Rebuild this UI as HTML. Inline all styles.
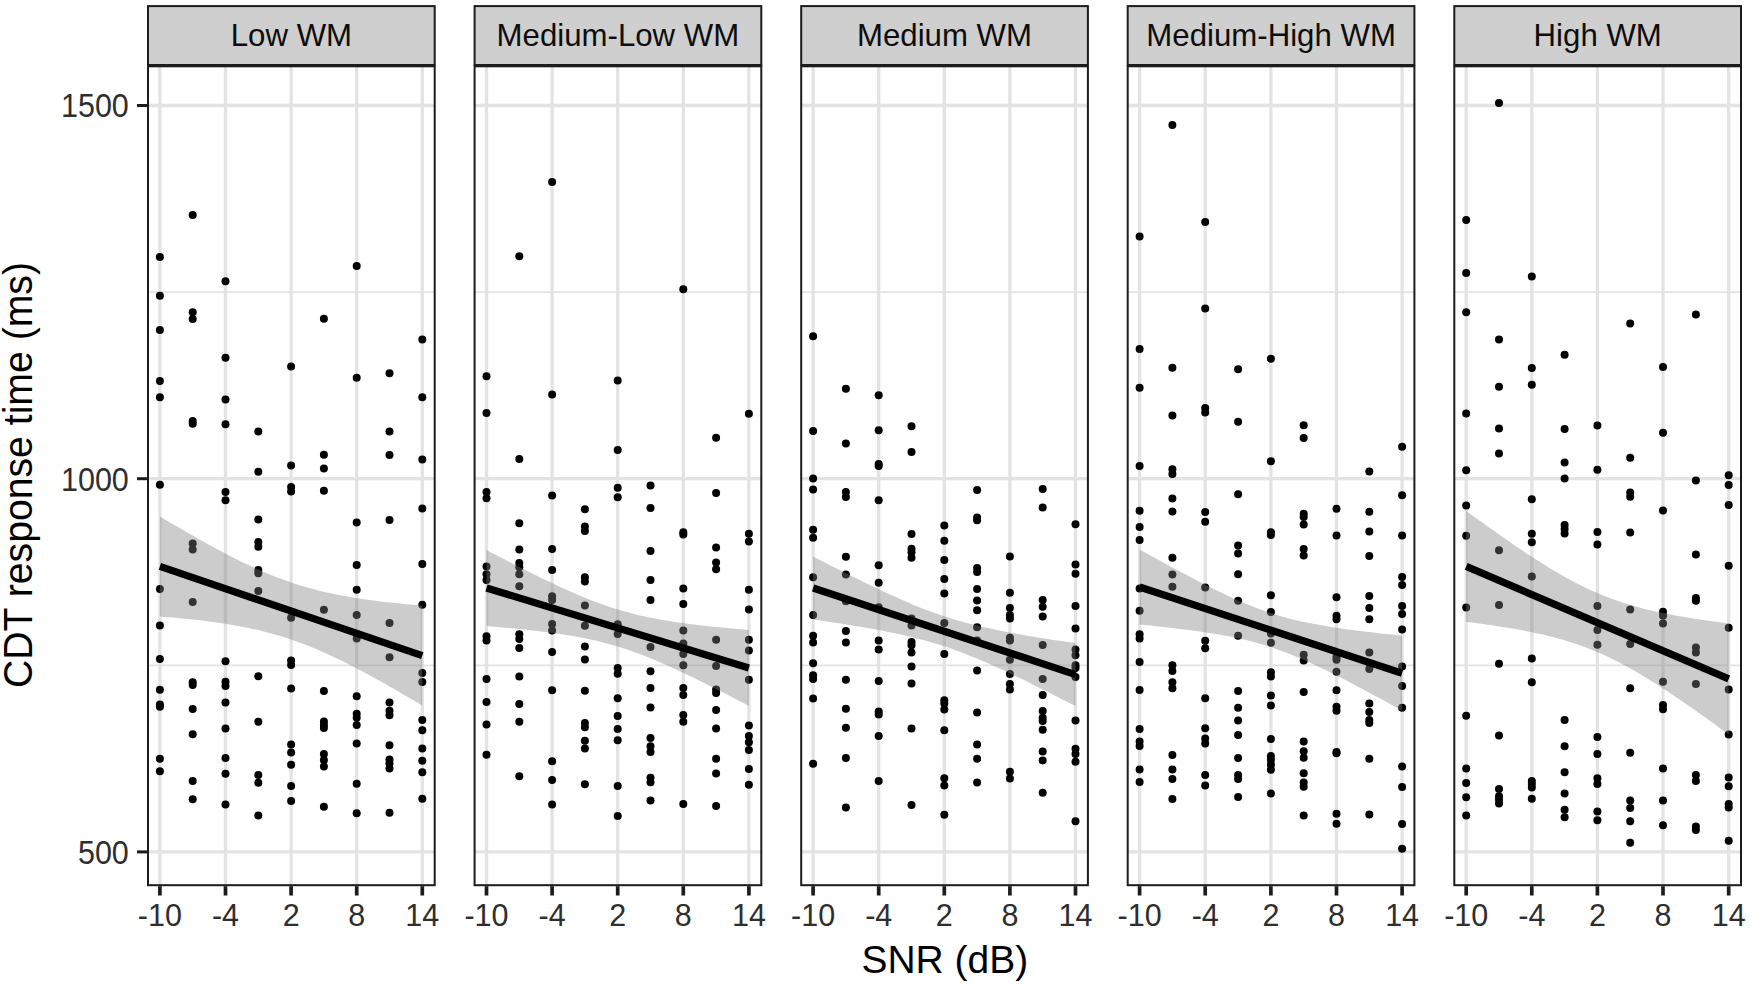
<!DOCTYPE html>
<html lang="en"><head><meta charset="utf-8"><title>CDT response time by SNR and WM group</title>
<style>html,body{margin:0;padding:0;background:#fff;}body{width:1750px;height:986px;overflow:hidden;}svg{display:block;}</style>
</head><body>
<svg width="1750" height="986" viewBox="0 0 1750 986" font-family="'Liberation Sans', Arial, sans-serif">
<rect width="1750" height="986" fill="#fff"/>
<g>
<rect x="148.0" y="66.3" width="286.7" height="818.9" fill="#fff"/>
<line x1="148.0" x2="434.7" y1="292.1" y2="292.1" stroke="#e3e3e3" stroke-width="1.7"/>
<line x1="148.0" x2="434.7" y1="665.3" y2="665.3" stroke="#e3e3e3" stroke-width="1.7"/>
<line x1="148.0" x2="434.7" y1="105.5" y2="105.5" stroke="#e3e3e3" stroke-width="3.3"/>
<line x1="148.0" x2="434.7" y1="478.7" y2="478.7" stroke="#e3e3e3" stroke-width="3.3"/>
<line x1="148.0" x2="434.7" y1="851.9" y2="851.9" stroke="#e3e3e3" stroke-width="3.3"/>
<line x1="159.9" x2="159.9" y1="66.3" y2="885.2" stroke="#e3e3e3" stroke-width="3.3"/>
<line x1="225.5" x2="225.5" y1="66.3" y2="885.2" stroke="#e3e3e3" stroke-width="3.3"/>
<line x1="291.1" x2="291.1" y1="66.3" y2="885.2" stroke="#e3e3e3" stroke-width="3.3"/>
<line x1="356.7" x2="356.7" y1="66.3" y2="885.2" stroke="#e3e3e3" stroke-width="3.3"/>
<line x1="422.3" x2="422.3" y1="66.3" y2="885.2" stroke="#e3e3e3" stroke-width="3.3"/>
<g fill="#000"><circle cx="159.9" cy="256.9" r="4"/><circle cx="159.9" cy="295.8" r="4"/><circle cx="159.9" cy="329.9" r="4"/><circle cx="159.9" cy="380.9" r="4"/><circle cx="159.9" cy="397.3" r="4"/><circle cx="159.9" cy="484.8" r="4"/><circle cx="159.9" cy="589.1" r="4"/><circle cx="159.9" cy="625.5" r="4"/><circle cx="159.9" cy="659" r="4"/><circle cx="159.9" cy="689.7" r="4"/><circle cx="159.9" cy="704.4" r="4"/><circle cx="159.9" cy="706.7" r="4"/><circle cx="159.9" cy="758.7" r="4"/><circle cx="159.9" cy="771.2" r="4"/><circle cx="192.7" cy="215.1" r="4"/><circle cx="192.7" cy="312.3" r="4"/><circle cx="192.7" cy="319.1" r="4"/><circle cx="192.7" cy="420.9" r="4"/><circle cx="192.7" cy="423.8" r="4"/><circle cx="192.7" cy="543.6" r="4"/><circle cx="192.7" cy="549.6" r="4"/><circle cx="192.7" cy="601.9" r="4"/><circle cx="192.7" cy="682.3" r="4"/><circle cx="192.7" cy="685.1" r="4"/><circle cx="192.7" cy="709" r="4"/><circle cx="192.7" cy="734.3" r="4"/><circle cx="192.7" cy="780.9" r="4"/><circle cx="192.7" cy="799.3" r="4"/><circle cx="225.5" cy="281.3" r="4"/><circle cx="225.5" cy="357.8" r="4"/><circle cx="225.5" cy="399.6" r="4"/><circle cx="225.5" cy="424.3" r="4"/><circle cx="225.5" cy="491.9" r="4"/><circle cx="225.5" cy="500.2" r="4"/><circle cx="225.5" cy="661.3" r="4"/><circle cx="225.5" cy="681.7" r="4"/><circle cx="225.5" cy="686" r="4"/><circle cx="225.5" cy="702.4" r="4"/><circle cx="225.5" cy="728.6" r="4"/><circle cx="225.5" cy="758.1" r="4"/><circle cx="225.5" cy="773.8" r="4"/><circle cx="225.5" cy="804.4" r="4"/><circle cx="258.3" cy="431.4" r="4"/><circle cx="258.3" cy="471.8" r="4"/><circle cx="258.3" cy="519.5" r="4"/><circle cx="258.3" cy="541.9" r="4"/><circle cx="258.3" cy="546.8" r="4"/><circle cx="258.3" cy="570.1" r="4"/><circle cx="258.3" cy="573.2" r="4"/><circle cx="258.3" cy="591.1" r="4"/><circle cx="258.3" cy="676.3" r="4"/><circle cx="258.3" cy="721.8" r="4"/><circle cx="258.3" cy="774.9" r="4"/><circle cx="258.3" cy="782.8" r="4"/><circle cx="258.3" cy="815.5" r="4"/><circle cx="291.1" cy="366.6" r="4"/><circle cx="291.1" cy="465.5" r="4"/><circle cx="291.1" cy="487.1" r="4"/><circle cx="291.1" cy="491.6" r="4"/><circle cx="291.1" cy="617.8" r="4"/><circle cx="291.1" cy="660.4" r="4"/><circle cx="291.1" cy="664.9" r="4"/><circle cx="291.1" cy="688.5" r="4"/><circle cx="291.1" cy="744.5" r="4"/><circle cx="291.1" cy="752.4" r="4"/><circle cx="291.1" cy="764.7" r="4"/><circle cx="291.1" cy="786" r="4"/><circle cx="291.1" cy="801" r="4"/><circle cx="323.9" cy="318.8" r="4"/><circle cx="323.9" cy="454.7" r="4"/><circle cx="323.9" cy="468.6" r="4"/><circle cx="323.9" cy="490.8" r="4"/><circle cx="323.9" cy="609.8" r="4"/><circle cx="323.9" cy="691.1" r="4"/><circle cx="323.9" cy="721.5" r="4"/><circle cx="323.9" cy="724.9" r="4"/><circle cx="323.9" cy="728" r="4"/><circle cx="323.9" cy="753.9" r="4"/><circle cx="323.9" cy="760.1" r="4"/><circle cx="323.9" cy="766.4" r="4"/><circle cx="323.9" cy="806.7" r="4"/><circle cx="356.7" cy="266" r="4"/><circle cx="356.7" cy="377.7" r="4"/><circle cx="356.7" cy="522.6" r="4"/><circle cx="356.7" cy="564.9" r="4"/><circle cx="356.7" cy="589.7" r="4"/><circle cx="356.7" cy="614.9" r="4"/><circle cx="356.7" cy="638.5" r="4"/><circle cx="356.7" cy="696.2" r="4"/><circle cx="356.7" cy="713.8" r="4"/><circle cx="356.7" cy="717.8" r="4"/><circle cx="356.7" cy="724.9" r="4"/><circle cx="356.7" cy="743.6" r="4"/><circle cx="356.7" cy="783.7" r="4"/><circle cx="356.7" cy="813.2" r="4"/><circle cx="389.5" cy="373.2" r="4"/><circle cx="389.5" cy="431.4" r="4"/><circle cx="389.5" cy="455" r="4"/><circle cx="389.5" cy="520.1" r="4"/><circle cx="389.5" cy="622.9" r="4"/><circle cx="389.5" cy="657.3" r="4"/><circle cx="389.5" cy="702.4" r="4"/><circle cx="389.5" cy="710.7" r="4"/><circle cx="389.5" cy="715.2" r="4"/><circle cx="389.5" cy="745.3" r="4"/><circle cx="389.5" cy="759.5" r="4"/><circle cx="389.5" cy="763.5" r="4"/><circle cx="389.5" cy="768.4" r="4"/><circle cx="389.5" cy="812.7" r="4"/><circle cx="422.3" cy="339.6" r="4"/><circle cx="422.3" cy="397.3" r="4"/><circle cx="422.3" cy="459.5" r="4"/><circle cx="422.3" cy="508.4" r="4"/><circle cx="422.3" cy="564.1" r="4"/><circle cx="422.3" cy="604.7" r="4"/><circle cx="422.3" cy="672.9" r="4"/><circle cx="422.3" cy="682" r="4"/><circle cx="422.3" cy="720.1" r="4"/><circle cx="422.3" cy="730.3" r="4"/><circle cx="422.3" cy="748.5" r="4"/><circle cx="422.3" cy="760.7" r="4"/><circle cx="422.3" cy="772.3" r="4"/><circle cx="422.3" cy="798.8" r="4"/></g>
<path d="M159.9,516.4 L165.4,519.7 L170.8,522.9 L176.3,526.1 L181.8,529.3 L187.2,532.4 L192.7,535.6 L198.2,538.7 L203.6,541.7 L209.1,544.8 L214.6,547.7 L220.0,550.7 L225.5,553.6 L231.0,556.4 L236.4,559.2 L241.9,561.9 L247.4,564.5 L252.8,567.1 L258.3,569.6 L263.8,572.0 L269.2,574.3 L274.7,576.5 L280.2,578.6 L285.7,580.6 L291.1,582.5 L296.6,584.3 L302.1,586.0 L307.5,587.6 L313.0,589.1 L318.5,590.5 L323.9,591.9 L329.4,593.1 L334.9,594.2 L340.3,595.3 L345.8,596.3 L351.3,597.3 L356.7,598.2 L362.2,599.0 L367.7,599.8 L373.1,600.5 L378.6,601.2 L384.1,601.9 L389.5,602.5 L395.0,603.1 L400.5,603.6 L405.9,604.2 L411.4,604.7 L416.9,605.1 L422.3,605.6 L422.3,705.6 L416.9,702.3 L411.4,699.1 L405.9,695.9 L400.5,692.7 L395.0,689.6 L389.5,686.4 L384.1,683.3 L378.6,680.3 L373.1,677.2 L367.7,674.3 L362.2,671.3 L356.7,668.4 L351.3,665.6 L345.8,662.8 L340.3,660.1 L334.9,657.5 L329.4,654.9 L323.9,652.4 L318.5,650.0 L313.0,647.7 L307.5,645.5 L302.1,643.4 L296.6,641.4 L291.1,639.5 L285.7,637.7 L280.2,636.0 L274.7,634.4 L269.2,632.9 L263.8,631.5 L258.3,630.1 L252.8,628.9 L247.4,627.8 L241.9,626.7 L236.4,625.7 L231.0,624.7 L225.5,623.8 L220.0,623.0 L214.6,622.2 L209.1,621.5 L203.6,620.8 L198.2,620.1 L192.7,619.5 L187.2,618.9 L181.8,618.4 L176.3,617.8 L170.8,617.3 L165.4,616.9 L159.9,616.4Z" fill="rgb(128,128,128)" fill-opacity="0.4"/>
<line x1="159.9" y1="566.4" x2="422.3" y2="655.6" stroke="#000" stroke-width="7.3"/>
<rect x="148.0" y="66.3" width="286.7" height="818.9" fill="none" stroke="#1c1c1c" stroke-width="2"/>
<rect x="148.0" y="6.1" width="286.7" height="58.9" fill="#cfcfcf" stroke="#1c1c1c" stroke-width="2"/>
<text transform="translate(291.4,45.8) scale(1,1.035)" font-size="31.2" text-anchor="middle" fill="#0d0d0d">Low WM</text>
<line x1="159.9" x2="159.9" y1="886.2" y2="895.5" stroke="#1c1c1c" stroke-width="3.7"/>
<text transform="translate(159.9,926.3) scale(1,1.05)" font-size="30.5" text-anchor="middle" fill="#2e2e2e">-10</text>
<line x1="225.5" x2="225.5" y1="886.2" y2="895.5" stroke="#1c1c1c" stroke-width="3.7"/>
<text transform="translate(225.5,926.3) scale(1,1.05)" font-size="30.5" text-anchor="middle" fill="#2e2e2e">-4</text>
<line x1="291.1" x2="291.1" y1="886.2" y2="895.5" stroke="#1c1c1c" stroke-width="3.7"/>
<text transform="translate(291.1,926.3) scale(1,1.05)" font-size="30.5" text-anchor="middle" fill="#2e2e2e">2</text>
<line x1="356.7" x2="356.7" y1="886.2" y2="895.5" stroke="#1c1c1c" stroke-width="3.7"/>
<text transform="translate(356.7,926.3) scale(1,1.05)" font-size="30.5" text-anchor="middle" fill="#2e2e2e">8</text>
<line x1="422.3" x2="422.3" y1="886.2" y2="895.5" stroke="#1c1c1c" stroke-width="3.7"/>
<text transform="translate(422.3,926.3) scale(1,1.05)" font-size="30.5" text-anchor="middle" fill="#2e2e2e">14</text>
</g>
<g>
<rect x="474.6" y="66.3" width="286.7" height="818.9" fill="#fff"/>
<line x1="474.6" x2="761.3" y1="292.1" y2="292.1" stroke="#e3e3e3" stroke-width="1.7"/>
<line x1="474.6" x2="761.3" y1="665.3" y2="665.3" stroke="#e3e3e3" stroke-width="1.7"/>
<line x1="474.6" x2="761.3" y1="105.5" y2="105.5" stroke="#e3e3e3" stroke-width="3.3"/>
<line x1="474.6" x2="761.3" y1="478.7" y2="478.7" stroke="#e3e3e3" stroke-width="3.3"/>
<line x1="474.6" x2="761.3" y1="851.9" y2="851.9" stroke="#e3e3e3" stroke-width="3.3"/>
<line x1="486.5" x2="486.5" y1="66.3" y2="885.2" stroke="#e3e3e3" stroke-width="3.3"/>
<line x1="552.1" x2="552.1" y1="66.3" y2="885.2" stroke="#e3e3e3" stroke-width="3.3"/>
<line x1="617.7" x2="617.7" y1="66.3" y2="885.2" stroke="#e3e3e3" stroke-width="3.3"/>
<line x1="683.3" x2="683.3" y1="66.3" y2="885.2" stroke="#e3e3e3" stroke-width="3.3"/>
<line x1="748.9" x2="748.9" y1="66.3" y2="885.2" stroke="#e3e3e3" stroke-width="3.3"/>
<g fill="#000"><circle cx="486.5" cy="376.3" r="4"/><circle cx="486.5" cy="413" r="4"/><circle cx="486.5" cy="491.9" r="4"/><circle cx="486.5" cy="498.2" r="4"/><circle cx="486.5" cy="566.6" r="4"/><circle cx="486.5" cy="574.3" r="4"/><circle cx="486.5" cy="580" r="4"/><circle cx="486.5" cy="636.3" r="4"/><circle cx="486.5" cy="640.5" r="4"/><circle cx="486.5" cy="678.9" r="4"/><circle cx="486.5" cy="701.9" r="4"/><circle cx="486.5" cy="724.6" r="4"/><circle cx="486.5" cy="754.7" r="4"/><circle cx="519.3" cy="256.3" r="4"/><circle cx="519.3" cy="459" r="4"/><circle cx="519.3" cy="523.2" r="4"/><circle cx="519.3" cy="549.6" r="4"/><circle cx="519.3" cy="563" r="4"/><circle cx="519.3" cy="567.2" r="4"/><circle cx="519.3" cy="574.3" r="4"/><circle cx="519.3" cy="586.3" r="4"/><circle cx="519.3" cy="634.3" r="4"/><circle cx="519.3" cy="639.1" r="4"/><circle cx="519.3" cy="647.9" r="4"/><circle cx="519.3" cy="676.6" r="4"/><circle cx="519.3" cy="704.1" r="4"/><circle cx="519.3" cy="721.8" r="4"/><circle cx="519.3" cy="776.3" r="4"/><circle cx="552.1" cy="181.9" r="4"/><circle cx="552.1" cy="394.5" r="4"/><circle cx="552.1" cy="495.6" r="4"/><circle cx="552.1" cy="549" r="4"/><circle cx="552.1" cy="570.1" r="4"/><circle cx="552.1" cy="596.2" r="4"/><circle cx="552.1" cy="599.9" r="4"/><circle cx="552.1" cy="624" r="4"/><circle cx="552.1" cy="630.6" r="4"/><circle cx="552.1" cy="651.9" r="4"/><circle cx="552.1" cy="690.2" r="4"/><circle cx="552.1" cy="761.3" r="4"/><circle cx="552.1" cy="780" r="4"/><circle cx="552.1" cy="804.4" r="4"/><circle cx="584.9" cy="509.3" r="4"/><circle cx="584.9" cy="526.6" r="4"/><circle cx="584.9" cy="531.1" r="4"/><circle cx="584.9" cy="577.2" r="4"/><circle cx="584.9" cy="581.4" r="4"/><circle cx="584.9" cy="605.4" r="4"/><circle cx="584.9" cy="625.7" r="4"/><circle cx="584.9" cy="646.5" r="4"/><circle cx="584.9" cy="659.5" r="4"/><circle cx="584.9" cy="690.8" r="4"/><circle cx="584.9" cy="722.9" r="4"/><circle cx="584.9" cy="727.2" r="4"/><circle cx="584.9" cy="740.8" r="4"/><circle cx="584.9" cy="748.5" r="4"/><circle cx="584.9" cy="784.3" r="4"/><circle cx="617.7" cy="380.6" r="4"/><circle cx="617.7" cy="449.9" r="4"/><circle cx="617.7" cy="487.7" r="4"/><circle cx="617.7" cy="497.3" r="4"/><circle cx="617.7" cy="624.3" r="4"/><circle cx="617.7" cy="634" r="4"/><circle cx="617.7" cy="668.1" r="4"/><circle cx="617.7" cy="673.8" r="4"/><circle cx="617.7" cy="698.2" r="4"/><circle cx="617.7" cy="716.1" r="4"/><circle cx="617.7" cy="729.1" r="4"/><circle cx="617.7" cy="740.2" r="4"/><circle cx="617.7" cy="786" r="4"/><circle cx="617.7" cy="816.1" r="4"/><circle cx="650.5" cy="485.4" r="4"/><circle cx="650.5" cy="508.1" r="4"/><circle cx="650.5" cy="551" r="4"/><circle cx="650.5" cy="580" r="4"/><circle cx="650.5" cy="599.9" r="4"/><circle cx="650.5" cy="647" r="4"/><circle cx="650.5" cy="671.2" r="4"/><circle cx="650.5" cy="688" r="4"/><circle cx="650.5" cy="707.6" r="4"/><circle cx="650.5" cy="738" r="4"/><circle cx="650.5" cy="746.2" r="4"/><circle cx="650.5" cy="751.9" r="4"/><circle cx="650.5" cy="777.7" r="4"/><circle cx="650.5" cy="782.3" r="4"/><circle cx="650.5" cy="800.5" r="4"/><circle cx="683.3" cy="289.3" r="4"/><circle cx="683.3" cy="532.3" r="4"/><circle cx="683.3" cy="534.6" r="4"/><circle cx="683.3" cy="588.5" r="4"/><circle cx="683.3" cy="604" r="4"/><circle cx="683.3" cy="630.6" r="4"/><circle cx="683.3" cy="643.4" r="4"/><circle cx="683.3" cy="653.9" r="4"/><circle cx="683.3" cy="665.2" r="4"/><circle cx="683.3" cy="688" r="4"/><circle cx="683.3" cy="695.1" r="4"/><circle cx="683.3" cy="714.9" r="4"/><circle cx="683.3" cy="721.8" r="4"/><circle cx="683.3" cy="804.1" r="4"/><circle cx="716.1" cy="437.7" r="4"/><circle cx="716.1" cy="493.1" r="4"/><circle cx="716.1" cy="547.6" r="4"/><circle cx="716.1" cy="562.4" r="4"/><circle cx="716.1" cy="569.2" r="4"/><circle cx="716.1" cy="639.7" r="4"/><circle cx="716.1" cy="666.1" r="4"/><circle cx="716.1" cy="689.4" r="4"/><circle cx="716.1" cy="693.1" r="4"/><circle cx="716.1" cy="710.1" r="4"/><circle cx="716.1" cy="728.6" r="4"/><circle cx="716.1" cy="758.7" r="4"/><circle cx="716.1" cy="773.5" r="4"/><circle cx="716.1" cy="805.9" r="4"/><circle cx="748.9" cy="413.8" r="4"/><circle cx="748.9" cy="533.7" r="4"/><circle cx="748.9" cy="541.4" r="4"/><circle cx="748.9" cy="589.7" r="4"/><circle cx="748.9" cy="609.5" r="4"/><circle cx="748.9" cy="639.7" r="4"/><circle cx="748.9" cy="650.5" r="4"/><circle cx="748.9" cy="679.7" r="4"/><circle cx="748.9" cy="725.5" r="4"/><circle cx="748.9" cy="736" r="4"/><circle cx="748.9" cy="742.2" r="4"/><circle cx="748.9" cy="749.9" r="4"/><circle cx="748.9" cy="768.9" r="4"/><circle cx="748.9" cy="784.8" r="4"/></g>
<path d="M486.5,550.0 L491.9,552.9 L497.4,555.7 L502.9,558.6 L508.4,561.4 L513.8,564.2 L519.3,567.0 L524.8,569.7 L530.2,572.5 L535.7,575.2 L541.2,577.9 L546.6,580.5 L552.1,583.1 L557.6,585.7 L563.0,588.2 L568.5,590.7 L574.0,593.1 L579.4,595.5 L584.9,597.7 L590.4,599.9 L595.8,602.0 L601.3,604.0 L606.8,606.0 L612.2,607.8 L617.7,609.5 L623.2,611.1 L628.6,612.6 L634.1,614.0 L639.6,615.4 L645.0,616.6 L650.5,617.7 L656.0,618.8 L661.4,619.8 L666.9,620.7 L672.4,621.6 L677.8,622.4 L683.3,623.1 L688.8,623.9 L694.2,624.6 L699.7,625.2 L705.2,625.8 L710.6,626.4 L716.1,627.0 L721.6,627.5 L727.1,628.1 L732.5,628.6 L738.0,629.1 L743.5,629.5 L748.9,630.0 L748.9,706.0 L743.5,703.1 L738.0,700.3 L732.5,697.4 L727.1,694.6 L721.6,691.8 L716.1,689.0 L710.6,686.3 L705.2,683.5 L699.7,680.8 L694.2,678.1 L688.8,675.5 L683.3,672.9 L677.8,670.3 L672.4,667.8 L666.9,665.3 L661.4,662.9 L656.0,660.5 L650.5,658.3 L645.0,656.1 L639.6,654.0 L634.1,652.0 L628.6,650.0 L623.2,648.2 L617.7,646.5 L612.2,644.9 L606.8,643.4 L601.3,642.0 L595.8,640.6 L590.4,639.4 L584.9,638.3 L579.4,637.2 L574.0,636.2 L568.5,635.3 L563.0,634.4 L557.6,633.6 L552.1,632.9 L546.6,632.1 L541.2,631.4 L535.7,630.8 L530.2,630.2 L524.8,629.6 L519.3,629.0 L513.8,628.5 L508.4,627.9 L502.9,627.4 L497.4,626.9 L491.9,626.5 L486.5,626.0Z" fill="rgb(128,128,128)" fill-opacity="0.4"/>
<line x1="486.5" y1="588.0" x2="748.9" y2="668.0" stroke="#000" stroke-width="7.3"/>
<rect x="474.6" y="66.3" width="286.7" height="818.9" fill="none" stroke="#1c1c1c" stroke-width="2"/>
<rect x="474.6" y="6.1" width="286.7" height="58.9" fill="#cfcfcf" stroke="#1c1c1c" stroke-width="2"/>
<text transform="translate(617.9,45.8) scale(1,1.035)" font-size="31.2" text-anchor="middle" fill="#0d0d0d">Medium-Low WM</text>
<line x1="486.5" x2="486.5" y1="886.2" y2="895.5" stroke="#1c1c1c" stroke-width="3.7"/>
<text transform="translate(486.5,926.3) scale(1,1.05)" font-size="30.5" text-anchor="middle" fill="#2e2e2e">-10</text>
<line x1="552.1" x2="552.1" y1="886.2" y2="895.5" stroke="#1c1c1c" stroke-width="3.7"/>
<text transform="translate(552.1,926.3) scale(1,1.05)" font-size="30.5" text-anchor="middle" fill="#2e2e2e">-4</text>
<line x1="617.7" x2="617.7" y1="886.2" y2="895.5" stroke="#1c1c1c" stroke-width="3.7"/>
<text transform="translate(617.7,926.3) scale(1,1.05)" font-size="30.5" text-anchor="middle" fill="#2e2e2e">2</text>
<line x1="683.3" x2="683.3" y1="886.2" y2="895.5" stroke="#1c1c1c" stroke-width="3.7"/>
<text transform="translate(683.3,926.3) scale(1,1.05)" font-size="30.5" text-anchor="middle" fill="#2e2e2e">8</text>
<line x1="748.9" x2="748.9" y1="886.2" y2="895.5" stroke="#1c1c1c" stroke-width="3.7"/>
<text transform="translate(748.9,926.3) scale(1,1.05)" font-size="30.5" text-anchor="middle" fill="#2e2e2e">14</text>
</g>
<g>
<rect x="801.2" y="66.3" width="286.7" height="818.9" fill="#fff"/>
<line x1="801.2" x2="1087.9" y1="292.1" y2="292.1" stroke="#e3e3e3" stroke-width="1.7"/>
<line x1="801.2" x2="1087.9" y1="665.3" y2="665.3" stroke="#e3e3e3" stroke-width="1.7"/>
<line x1="801.2" x2="1087.9" y1="105.5" y2="105.5" stroke="#e3e3e3" stroke-width="3.3"/>
<line x1="801.2" x2="1087.9" y1="478.7" y2="478.7" stroke="#e3e3e3" stroke-width="3.3"/>
<line x1="801.2" x2="1087.9" y1="851.9" y2="851.9" stroke="#e3e3e3" stroke-width="3.3"/>
<line x1="813.1" x2="813.1" y1="66.3" y2="885.2" stroke="#e3e3e3" stroke-width="3.3"/>
<line x1="878.7" x2="878.7" y1="66.3" y2="885.2" stroke="#e3e3e3" stroke-width="3.3"/>
<line x1="944.3" x2="944.3" y1="66.3" y2="885.2" stroke="#e3e3e3" stroke-width="3.3"/>
<line x1="1009.9" x2="1009.9" y1="66.3" y2="885.2" stroke="#e3e3e3" stroke-width="3.3"/>
<line x1="1075.5" x2="1075.5" y1="66.3" y2="885.2" stroke="#e3e3e3" stroke-width="3.3"/>
<g fill="#000"><circle cx="813.1" cy="336.3" r="4"/><circle cx="813.1" cy="430.9" r="4"/><circle cx="813.1" cy="478.6" r="4"/><circle cx="813.1" cy="489.4" r="4"/><circle cx="813.1" cy="529.7" r="4"/><circle cx="813.1" cy="537.7" r="4"/><circle cx="813.1" cy="577.2" r="4"/><circle cx="813.1" cy="614.9" r="4"/><circle cx="813.1" cy="635.7" r="4"/><circle cx="813.1" cy="642.5" r="4"/><circle cx="813.1" cy="663.2" r="4"/><circle cx="813.1" cy="675.2" r="4"/><circle cx="813.1" cy="678.9" r="4"/><circle cx="813.1" cy="698.5" r="4"/><circle cx="813.1" cy="763.8" r="4"/><circle cx="845.9" cy="388.8" r="4"/><circle cx="845.9" cy="443.6" r="4"/><circle cx="845.9" cy="491.9" r="4"/><circle cx="845.9" cy="497" r="4"/><circle cx="845.9" cy="556.7" r="4"/><circle cx="845.9" cy="574.6" r="4"/><circle cx="845.9" cy="601.3" r="4"/><circle cx="845.9" cy="631.1" r="4"/><circle cx="845.9" cy="642.5" r="4"/><circle cx="845.9" cy="679.7" r="4"/><circle cx="845.9" cy="708.7" r="4"/><circle cx="845.9" cy="727.7" r="4"/><circle cx="845.9" cy="758.1" r="4"/><circle cx="845.9" cy="807.6" r="4"/><circle cx="878.7" cy="395.3" r="4"/><circle cx="878.7" cy="430.3" r="4"/><circle cx="878.7" cy="464" r="4"/><circle cx="878.7" cy="466" r="4"/><circle cx="878.7" cy="500.2" r="4"/><circle cx="878.7" cy="565.2" r="4"/><circle cx="878.7" cy="582.8" r="4"/><circle cx="878.7" cy="607.3" r="4"/><circle cx="878.7" cy="640.5" r="4"/><circle cx="878.7" cy="649.6" r="4"/><circle cx="878.7" cy="680.9" r="4"/><circle cx="878.7" cy="711.5" r="4"/><circle cx="878.7" cy="714.4" r="4"/><circle cx="878.7" cy="736" r="4"/><circle cx="878.7" cy="780.9" r="4"/><circle cx="911.5" cy="426.3" r="4"/><circle cx="911.5" cy="451.9" r="4"/><circle cx="911.5" cy="534" r="4"/><circle cx="911.5" cy="548.8" r="4"/><circle cx="911.5" cy="552.2" r="4"/><circle cx="911.5" cy="557.8" r="4"/><circle cx="911.5" cy="618.6" r="4"/><circle cx="911.5" cy="625.5" r="4"/><circle cx="911.5" cy="641.9" r="4"/><circle cx="911.5" cy="645.3" r="4"/><circle cx="911.5" cy="652.4" r="4"/><circle cx="911.5" cy="666.6" r="4"/><circle cx="911.5" cy="683.4" r="4"/><circle cx="911.5" cy="728.6" r="4"/><circle cx="911.5" cy="805" r="4"/><circle cx="944.3" cy="525.5" r="4"/><circle cx="944.3" cy="540.8" r="4"/><circle cx="944.3" cy="560.1" r="4"/><circle cx="944.3" cy="579.1" r="4"/><circle cx="944.3" cy="593.6" r="4"/><circle cx="944.3" cy="622.9" r="4"/><circle cx="944.3" cy="654.1" r="4"/><circle cx="944.3" cy="700.2" r="4"/><circle cx="944.3" cy="703.6" r="4"/><circle cx="944.3" cy="709.5" r="4"/><circle cx="944.3" cy="730.3" r="4"/><circle cx="944.3" cy="778.3" r="4"/><circle cx="944.3" cy="785.4" r="4"/><circle cx="944.3" cy="814.7" r="4"/><circle cx="977.1" cy="489.9" r="4"/><circle cx="977.1" cy="517.5" r="4"/><circle cx="977.1" cy="520.3" r="4"/><circle cx="977.1" cy="568.1" r="4"/><circle cx="977.1" cy="572" r="4"/><circle cx="977.1" cy="589.1" r="4"/><circle cx="977.1" cy="600.5" r="4"/><circle cx="977.1" cy="610.2" r="4"/><circle cx="977.1" cy="627.2" r="4"/><circle cx="977.1" cy="640.5" r="4"/><circle cx="977.1" cy="670.6" r="4"/><circle cx="977.1" cy="712.4" r="4"/><circle cx="977.1" cy="744.5" r="4"/><circle cx="977.1" cy="758.7" r="4"/><circle cx="977.1" cy="782.6" r="4"/><circle cx="1009.9" cy="556.4" r="4"/><circle cx="1009.9" cy="592.8" r="4"/><circle cx="1009.9" cy="608" r="4"/><circle cx="1009.9" cy="614.9" r="4"/><circle cx="1009.9" cy="618.6" r="4"/><circle cx="1009.9" cy="637.7" r="4"/><circle cx="1009.9" cy="640.5" r="4"/><circle cx="1009.9" cy="659.8" r="4"/><circle cx="1009.9" cy="674" r="4"/><circle cx="1009.9" cy="684" r="4"/><circle cx="1009.9" cy="689.4" r="4"/><circle cx="1009.9" cy="771.8" r="4"/><circle cx="1009.9" cy="778.6" r="4"/><circle cx="1042.7" cy="489.1" r="4"/><circle cx="1042.7" cy="507.6" r="4"/><circle cx="1042.7" cy="599.9" r="4"/><circle cx="1042.7" cy="606.7" r="4"/><circle cx="1042.7" cy="616.4" r="4"/><circle cx="1042.7" cy="645.1" r="4"/><circle cx="1042.7" cy="678.9" r="4"/><circle cx="1042.7" cy="695.1" r="4"/><circle cx="1042.7" cy="711" r="4"/><circle cx="1042.7" cy="717.8" r="4"/><circle cx="1042.7" cy="720.9" r="4"/><circle cx="1042.7" cy="729.7" r="4"/><circle cx="1042.7" cy="751.6" r="4"/><circle cx="1042.7" cy="760.4" r="4"/><circle cx="1042.7" cy="792.8" r="4"/><circle cx="1075.5" cy="524.3" r="4"/><circle cx="1075.5" cy="564.4" r="4"/><circle cx="1075.5" cy="573.8" r="4"/><circle cx="1075.5" cy="606.1" r="4"/><circle cx="1075.5" cy="628.6" r="4"/><circle cx="1075.5" cy="649.6" r="4"/><circle cx="1075.5" cy="655.3" r="4"/><circle cx="1075.5" cy="665.2" r="4"/><circle cx="1075.5" cy="668" r="4"/><circle cx="1075.5" cy="676.9" r="4"/><circle cx="1075.5" cy="720.6" r="4"/><circle cx="1075.5" cy="748.8" r="4"/><circle cx="1075.5" cy="753.9" r="4"/><circle cx="1075.5" cy="761.8" r="4"/><circle cx="1075.5" cy="821.2" r="4"/></g>
<path d="M813.1,556.5 L818.5,559.3 L824.0,562.1 L829.5,564.9 L834.9,567.7 L840.4,570.5 L845.9,573.2 L851.3,575.9 L856.8,578.6 L862.3,581.3 L867.7,584.0 L873.2,586.6 L878.7,589.2 L884.1,591.8 L889.6,594.3 L895.1,596.8 L900.5,599.3 L906.0,601.6 L911.5,604.0 L916.9,606.2 L922.4,608.4 L927.9,610.5 L933.3,612.5 L938.8,614.5 L944.3,616.3 L949.7,618.1 L955.2,619.7 L960.7,621.3 L966.1,622.8 L971.6,624.2 L977.1,625.6 L982.6,626.9 L988.0,628.1 L993.5,629.3 L999.0,630.4 L1004.4,631.5 L1009.9,632.5 L1015.4,633.5 L1020.8,634.5 L1026.3,635.5 L1031.8,636.4 L1037.2,637.3 L1042.7,638.2 L1048.2,639.0 L1053.6,639.9 L1059.1,640.7 L1064.6,641.5 L1070.0,642.3 L1075.5,643.1 L1075.5,706.1 L1070.0,703.3 L1064.6,700.5 L1059.1,697.7 L1053.6,694.9 L1048.2,692.1 L1042.7,689.4 L1037.2,686.7 L1031.8,684.0 L1026.3,681.3 L1020.8,678.6 L1015.4,676.0 L1009.9,673.4 L1004.4,670.8 L999.0,668.3 L993.5,665.8 L988.0,663.3 L982.6,661.0 L977.1,658.6 L971.6,656.4 L966.1,654.2 L960.7,652.1 L955.2,650.1 L949.7,648.1 L944.3,646.3 L938.8,644.5 L933.3,642.9 L927.9,641.3 L922.4,639.8 L916.9,638.4 L911.5,637.0 L906.0,635.7 L900.5,634.5 L895.1,633.3 L889.6,632.2 L884.1,631.1 L878.7,630.1 L873.2,629.1 L867.7,628.1 L862.3,627.1 L856.8,626.2 L851.3,625.3 L845.9,624.4 L840.4,623.6 L834.9,622.7 L829.5,621.9 L824.0,621.1 L818.5,620.3 L813.1,619.5Z" fill="rgb(128,128,128)" fill-opacity="0.4"/>
<line x1="813.1" y1="588.0" x2="1075.5" y2="674.6" stroke="#000" stroke-width="7.3"/>
<rect x="801.2" y="66.3" width="286.7" height="818.9" fill="none" stroke="#1c1c1c" stroke-width="2"/>
<rect x="801.2" y="6.1" width="286.7" height="58.9" fill="#cfcfcf" stroke="#1c1c1c" stroke-width="2"/>
<text transform="translate(944.5,45.8) scale(1,1.035)" font-size="31.2" text-anchor="middle" fill="#0d0d0d">Medium WM</text>
<line x1="813.1" x2="813.1" y1="886.2" y2="895.5" stroke="#1c1c1c" stroke-width="3.7"/>
<text transform="translate(813.1,926.3) scale(1,1.05)" font-size="30.5" text-anchor="middle" fill="#2e2e2e">-10</text>
<line x1="878.7" x2="878.7" y1="886.2" y2="895.5" stroke="#1c1c1c" stroke-width="3.7"/>
<text transform="translate(878.7,926.3) scale(1,1.05)" font-size="30.5" text-anchor="middle" fill="#2e2e2e">-4</text>
<line x1="944.3" x2="944.3" y1="886.2" y2="895.5" stroke="#1c1c1c" stroke-width="3.7"/>
<text transform="translate(944.3,926.3) scale(1,1.05)" font-size="30.5" text-anchor="middle" fill="#2e2e2e">2</text>
<line x1="1009.9" x2="1009.9" y1="886.2" y2="895.5" stroke="#1c1c1c" stroke-width="3.7"/>
<text transform="translate(1009.9,926.3) scale(1,1.05)" font-size="30.5" text-anchor="middle" fill="#2e2e2e">8</text>
<line x1="1075.5" x2="1075.5" y1="886.2" y2="895.5" stroke="#1c1c1c" stroke-width="3.7"/>
<text transform="translate(1075.5,926.3) scale(1,1.05)" font-size="30.5" text-anchor="middle" fill="#2e2e2e">14</text>
</g>
<g>
<rect x="1127.7" y="66.3" width="286.7" height="818.9" fill="#fff"/>
<line x1="1127.7" x2="1414.4" y1="292.1" y2="292.1" stroke="#e3e3e3" stroke-width="1.7"/>
<line x1="1127.7" x2="1414.4" y1="665.3" y2="665.3" stroke="#e3e3e3" stroke-width="1.7"/>
<line x1="1127.7" x2="1414.4" y1="105.5" y2="105.5" stroke="#e3e3e3" stroke-width="3.3"/>
<line x1="1127.7" x2="1414.4" y1="478.7" y2="478.7" stroke="#e3e3e3" stroke-width="3.3"/>
<line x1="1127.7" x2="1414.4" y1="851.9" y2="851.9" stroke="#e3e3e3" stroke-width="3.3"/>
<line x1="1139.6" x2="1139.6" y1="66.3" y2="885.2" stroke="#e3e3e3" stroke-width="3.3"/>
<line x1="1205.2" x2="1205.2" y1="66.3" y2="885.2" stroke="#e3e3e3" stroke-width="3.3"/>
<line x1="1270.9" x2="1270.9" y1="66.3" y2="885.2" stroke="#e3e3e3" stroke-width="3.3"/>
<line x1="1336.5" x2="1336.5" y1="66.3" y2="885.2" stroke="#e3e3e3" stroke-width="3.3"/>
<line x1="1402.1" x2="1402.1" y1="66.3" y2="885.2" stroke="#e3e3e3" stroke-width="3.3"/>
<g fill="#000"><circle cx="1139.6" cy="236.4" r="4"/><circle cx="1139.6" cy="349" r="4"/><circle cx="1139.6" cy="387.7" r="4"/><circle cx="1139.6" cy="466.1" r="4"/><circle cx="1139.6" cy="510.7" r="4"/><circle cx="1139.6" cy="526.9" r="4"/><circle cx="1139.6" cy="539.9" r="4"/><circle cx="1139.6" cy="588.5" r="4"/><circle cx="1139.6" cy="610.8" r="4"/><circle cx="1139.6" cy="634.3" r="4"/><circle cx="1139.6" cy="638.5" r="4"/><circle cx="1139.6" cy="662.1" r="4"/><circle cx="1139.6" cy="689.9" r="4"/><circle cx="1139.6" cy="729.1" r="4"/><circle cx="1139.6" cy="741.6" r="4"/><circle cx="1139.6" cy="745.9" r="4"/><circle cx="1139.6" cy="769.5" r="4"/><circle cx="1139.6" cy="782" r="4"/><circle cx="1172.4" cy="125.1" r="4"/><circle cx="1172.4" cy="367.8" r="4"/><circle cx="1172.4" cy="415.5" r="4"/><circle cx="1172.4" cy="469.2" r="4"/><circle cx="1172.4" cy="474" r="4"/><circle cx="1172.4" cy="498.5" r="4"/><circle cx="1172.4" cy="511.5" r="4"/><circle cx="1172.4" cy="557.8" r="4"/><circle cx="1172.4" cy="574.6" r="4"/><circle cx="1172.4" cy="586.8" r="4"/><circle cx="1172.4" cy="665.2" r="4"/><circle cx="1172.4" cy="670.9" r="4"/><circle cx="1172.4" cy="682.3" r="4"/><circle cx="1172.4" cy="688.2" r="4"/><circle cx="1172.4" cy="755" r="4"/><circle cx="1172.4" cy="769.5" r="4"/><circle cx="1172.4" cy="778.9" r="4"/><circle cx="1172.4" cy="799" r="4"/><circle cx="1205.2" cy="221.9" r="4"/><circle cx="1205.2" cy="308.6" r="4"/><circle cx="1205.2" cy="408.1" r="4"/><circle cx="1205.2" cy="412.4" r="4"/><circle cx="1205.2" cy="512.1" r="4"/><circle cx="1205.2" cy="521.8" r="4"/><circle cx="1205.2" cy="587.4" r="4"/><circle cx="1205.2" cy="640.8" r="4"/><circle cx="1205.2" cy="648.2" r="4"/><circle cx="1205.2" cy="698.2" r="4"/><circle cx="1205.2" cy="728.3" r="4"/><circle cx="1205.2" cy="738.5" r="4"/><circle cx="1205.2" cy="743.4" r="4"/><circle cx="1205.2" cy="774.9" r="4"/><circle cx="1205.2" cy="785.4" r="4"/><circle cx="1238.1" cy="369.2" r="4"/><circle cx="1238.1" cy="421.8" r="4"/><circle cx="1238.1" cy="494.2" r="4"/><circle cx="1238.1" cy="545.6" r="4"/><circle cx="1238.1" cy="553.6" r="4"/><circle cx="1238.1" cy="574.3" r="4"/><circle cx="1238.1" cy="600.7" r="4"/><circle cx="1238.1" cy="635.7" r="4"/><circle cx="1238.1" cy="691.1" r="4"/><circle cx="1238.1" cy="707.8" r="4"/><circle cx="1238.1" cy="720.6" r="4"/><circle cx="1238.1" cy="735.1" r="4"/><circle cx="1238.1" cy="758.1" r="4"/><circle cx="1238.1" cy="774.9" r="4"/><circle cx="1238.1" cy="779.1" r="4"/><circle cx="1238.1" cy="797" r="4"/><circle cx="1270.9" cy="358.7" r="4"/><circle cx="1270.9" cy="461.3" r="4"/><circle cx="1270.9" cy="532.3" r="4"/><circle cx="1270.9" cy="535.1" r="4"/><circle cx="1270.9" cy="595.3" r="4"/><circle cx="1270.9" cy="612.1" r="4"/><circle cx="1270.9" cy="633.4" r="4"/><circle cx="1270.9" cy="642.8" r="4"/><circle cx="1270.9" cy="672.3" r="4"/><circle cx="1270.9" cy="676.6" r="4"/><circle cx="1270.9" cy="695.6" r="4"/><circle cx="1270.9" cy="705.6" r="4"/><circle cx="1270.9" cy="739.1" r="4"/><circle cx="1270.9" cy="756.1" r="4"/><circle cx="1270.9" cy="759.8" r="4"/><circle cx="1270.9" cy="764.7" r="4"/><circle cx="1270.9" cy="769.8" r="4"/><circle cx="1270.9" cy="793.6" r="4"/><circle cx="1303.7" cy="425.2" r="4"/><circle cx="1303.7" cy="438" r="4"/><circle cx="1303.7" cy="513.8" r="4"/><circle cx="1303.7" cy="516.9" r="4"/><circle cx="1303.7" cy="524.6" r="4"/><circle cx="1303.7" cy="549" r="4"/><circle cx="1303.7" cy="555.6" r="4"/><circle cx="1303.7" cy="654.7" r="4"/><circle cx="1303.7" cy="660.4" r="4"/><circle cx="1303.7" cy="691.9" r="4"/><circle cx="1303.7" cy="741.4" r="4"/><circle cx="1303.7" cy="751.3" r="4"/><circle cx="1303.7" cy="757.8" r="4"/><circle cx="1303.7" cy="773.2" r="4"/><circle cx="1303.7" cy="782.6" r="4"/><circle cx="1303.7" cy="786.8" r="4"/><circle cx="1303.7" cy="815.5" r="4"/><circle cx="1336.5" cy="508.7" r="4"/><circle cx="1336.5" cy="535.4" r="4"/><circle cx="1336.5" cy="597.3" r="4"/><circle cx="1336.5" cy="615.8" r="4"/><circle cx="1336.5" cy="619.2" r="4"/><circle cx="1336.5" cy="657" r="4"/><circle cx="1336.5" cy="659.8" r="4"/><circle cx="1336.5" cy="671.8" r="4"/><circle cx="1336.5" cy="690.2" r="4"/><circle cx="1336.5" cy="706.7" r="4"/><circle cx="1336.5" cy="710.7" r="4"/><circle cx="1336.5" cy="751.9" r="4"/><circle cx="1336.5" cy="753.3" r="4"/><circle cx="1336.5" cy="813.8" r="4"/><circle cx="1336.5" cy="823.8" r="4"/><circle cx="1369.3" cy="471.5" r="4"/><circle cx="1369.3" cy="511.8" r="4"/><circle cx="1369.3" cy="531.4" r="4"/><circle cx="1369.3" cy="556.1" r="4"/><circle cx="1369.3" cy="595.9" r="4"/><circle cx="1369.3" cy="608.1" r="4"/><circle cx="1369.3" cy="619.2" r="4"/><circle cx="1369.3" cy="652.4" r="4"/><circle cx="1369.3" cy="663.2" r="4"/><circle cx="1369.3" cy="668.9" r="4"/><circle cx="1369.3" cy="703.6" r="4"/><circle cx="1369.3" cy="712.1" r="4"/><circle cx="1369.3" cy="720.1" r="4"/><circle cx="1369.3" cy="722.9" r="4"/><circle cx="1369.3" cy="758.7" r="4"/><circle cx="1369.3" cy="814.4" r="4"/><circle cx="1402.1" cy="446.8" r="4"/><circle cx="1402.1" cy="495.3" r="4"/><circle cx="1402.1" cy="535.4" r="4"/><circle cx="1402.1" cy="576.9" r="4"/><circle cx="1402.1" cy="585.1" r="4"/><circle cx="1402.1" cy="606" r="4"/><circle cx="1402.1" cy="614.1" r="4"/><circle cx="1402.1" cy="629.4" r="4"/><circle cx="1402.1" cy="666.4" r="4"/><circle cx="1402.1" cy="686" r="4"/><circle cx="1402.1" cy="707.8" r="4"/><circle cx="1402.1" cy="766.6" r="4"/><circle cx="1402.1" cy="787.1" r="4"/><circle cx="1402.1" cy="824" r="4"/><circle cx="1402.1" cy="848.8" r="4"/></g>
<path d="M1139.6,549.5 L1145.1,552.5 L1150.6,555.6 L1156.0,558.6 L1161.5,561.6 L1167.0,564.5 L1172.4,567.5 L1177.9,570.4 L1183.4,573.3 L1188.8,576.2 L1194.3,579.1 L1199.8,581.9 L1205.2,584.7 L1210.7,587.5 L1216.2,590.2 L1221.7,592.8 L1227.1,595.4 L1232.6,597.9 L1238.1,600.4 L1243.5,602.7 L1249.0,605.0 L1254.5,607.2 L1259.9,609.3 L1265.4,611.2 L1270.9,613.1 L1276.3,614.8 L1281.8,616.5 L1287.3,618.0 L1292.7,619.4 L1298.2,620.7 L1303.7,621.9 L1309.1,623.1 L1314.6,624.1 L1320.1,625.1 L1325.5,626.1 L1331.0,627.0 L1336.5,627.8 L1341.9,628.6 L1347.4,629.4 L1352.9,630.1 L1358.3,630.8 L1363.8,631.5 L1369.3,632.1 L1374.7,632.8 L1380.2,633.4 L1385.7,634.0 L1391.1,634.6 L1396.6,635.1 L1402.1,635.7 L1402.1,710.7 L1396.6,707.7 L1391.1,704.6 L1385.7,701.6 L1380.2,698.6 L1374.7,695.7 L1369.3,692.7 L1363.8,689.8 L1358.3,686.9 L1352.9,684.0 L1347.4,681.1 L1341.9,678.3 L1336.5,675.5 L1331.0,672.7 L1325.5,670.0 L1320.1,667.4 L1314.6,664.8 L1309.1,662.3 L1303.7,659.8 L1298.2,657.5 L1292.7,655.2 L1287.3,653.0 L1281.8,650.9 L1276.3,649.0 L1270.9,647.1 L1265.4,645.4 L1259.9,643.7 L1254.5,642.2 L1249.0,640.8 L1243.5,639.5 L1238.1,638.3 L1232.6,637.1 L1227.1,636.1 L1221.7,635.1 L1216.2,634.1 L1210.7,633.2 L1205.2,632.4 L1199.8,631.6 L1194.3,630.8 L1188.8,630.1 L1183.4,629.4 L1177.9,628.7 L1172.4,628.1 L1167.0,627.4 L1161.5,626.8 L1156.0,626.2 L1150.6,625.6 L1145.1,625.1 L1139.6,624.5Z" fill="rgb(128,128,128)" fill-opacity="0.4"/>
<line x1="1139.6" y1="587.0" x2="1402.1" y2="673.2" stroke="#000" stroke-width="7.3"/>
<rect x="1127.7" y="66.3" width="286.7" height="818.9" fill="none" stroke="#1c1c1c" stroke-width="2"/>
<rect x="1127.7" y="6.1" width="286.7" height="58.9" fill="#cfcfcf" stroke="#1c1c1c" stroke-width="2"/>
<text transform="translate(1271.1,45.8) scale(1,1.035)" font-size="31.2" text-anchor="middle" fill="#0d0d0d">Medium-High WM</text>
<line x1="1139.6" x2="1139.6" y1="886.2" y2="895.5" stroke="#1c1c1c" stroke-width="3.7"/>
<text transform="translate(1139.6,926.3) scale(1,1.05)" font-size="30.5" text-anchor="middle" fill="#2e2e2e">-10</text>
<line x1="1205.2" x2="1205.2" y1="886.2" y2="895.5" stroke="#1c1c1c" stroke-width="3.7"/>
<text transform="translate(1205.2,926.3) scale(1,1.05)" font-size="30.5" text-anchor="middle" fill="#2e2e2e">-4</text>
<line x1="1270.9" x2="1270.9" y1="886.2" y2="895.5" stroke="#1c1c1c" stroke-width="3.7"/>
<text transform="translate(1270.9,926.3) scale(1,1.05)" font-size="30.5" text-anchor="middle" fill="#2e2e2e">2</text>
<line x1="1336.5" x2="1336.5" y1="886.2" y2="895.5" stroke="#1c1c1c" stroke-width="3.7"/>
<text transform="translate(1336.5,926.3) scale(1,1.05)" font-size="30.5" text-anchor="middle" fill="#2e2e2e">8</text>
<line x1="1402.1" x2="1402.1" y1="886.2" y2="895.5" stroke="#1c1c1c" stroke-width="3.7"/>
<text transform="translate(1402.1,926.3) scale(1,1.05)" font-size="30.5" text-anchor="middle" fill="#2e2e2e">14</text>
</g>
<g>
<rect x="1454.3" y="66.3" width="286.7" height="818.9" fill="#fff"/>
<line x1="1454.3" x2="1741.0" y1="292.1" y2="292.1" stroke="#e3e3e3" stroke-width="1.7"/>
<line x1="1454.3" x2="1741.0" y1="665.3" y2="665.3" stroke="#e3e3e3" stroke-width="1.7"/>
<line x1="1454.3" x2="1741.0" y1="105.5" y2="105.5" stroke="#e3e3e3" stroke-width="3.3"/>
<line x1="1454.3" x2="1741.0" y1="478.7" y2="478.7" stroke="#e3e3e3" stroke-width="3.3"/>
<line x1="1454.3" x2="1741.0" y1="851.9" y2="851.9" stroke="#e3e3e3" stroke-width="3.3"/>
<line x1="1466.2" x2="1466.2" y1="66.3" y2="885.2" stroke="#e3e3e3" stroke-width="3.3"/>
<line x1="1531.8" x2="1531.8" y1="66.3" y2="885.2" stroke="#e3e3e3" stroke-width="3.3"/>
<line x1="1597.4" x2="1597.4" y1="66.3" y2="885.2" stroke="#e3e3e3" stroke-width="3.3"/>
<line x1="1663.0" x2="1663.0" y1="66.3" y2="885.2" stroke="#e3e3e3" stroke-width="3.3"/>
<line x1="1728.7" x2="1728.7" y1="66.3" y2="885.2" stroke="#e3e3e3" stroke-width="3.3"/>
<g fill="#000"><circle cx="1466.2" cy="219.9" r="4"/><circle cx="1466.2" cy="273.1" r="4"/><circle cx="1466.2" cy="312.3" r="4"/><circle cx="1466.2" cy="413.5" r="4"/><circle cx="1466.2" cy="470.3" r="4"/><circle cx="1466.2" cy="505.6" r="4"/><circle cx="1466.2" cy="535.7" r="4"/><circle cx="1466.2" cy="607.4" r="4"/><circle cx="1466.2" cy="715.8" r="4"/><circle cx="1466.2" cy="768.4" r="4"/><circle cx="1466.2" cy="783.1" r="4"/><circle cx="1466.2" cy="797.3" r="4"/><circle cx="1466.2" cy="815.5" r="4"/><circle cx="1499.0" cy="102.9" r="4"/><circle cx="1499.0" cy="339.5" r="4"/><circle cx="1499.0" cy="386.8" r="4"/><circle cx="1499.0" cy="428.6" r="4"/><circle cx="1499.0" cy="453.6" r="4"/><circle cx="1499.0" cy="550.2" r="4"/><circle cx="1499.0" cy="605" r="4"/><circle cx="1499.0" cy="663.8" r="4"/><circle cx="1499.0" cy="735.4" r="4"/><circle cx="1499.0" cy="789.1" r="4"/><circle cx="1499.0" cy="796.2" r="4"/><circle cx="1499.0" cy="799.6" r="4"/><circle cx="1499.0" cy="803.6" r="4"/><circle cx="1531.8" cy="276.5" r="4"/><circle cx="1531.8" cy="368.1" r="4"/><circle cx="1531.8" cy="384.8" r="4"/><circle cx="1531.8" cy="499.3" r="4"/><circle cx="1531.8" cy="533.7" r="4"/><circle cx="1531.8" cy="542.2" r="4"/><circle cx="1531.8" cy="576.6" r="4"/><circle cx="1531.8" cy="658.4" r="4"/><circle cx="1531.8" cy="682.3" r="4"/><circle cx="1531.8" cy="781.1" r="4"/><circle cx="1531.8" cy="784" r="4"/><circle cx="1531.8" cy="787.4" r="4"/><circle cx="1531.8" cy="798.8" r="4"/><circle cx="1564.6" cy="354.7" r="4"/><circle cx="1564.6" cy="429.1" r="4"/><circle cx="1564.6" cy="462.4" r="4"/><circle cx="1564.6" cy="478.6" r="4"/><circle cx="1564.6" cy="524.9" r="4"/><circle cx="1564.6" cy="528.9" r="4"/><circle cx="1564.6" cy="533.4" r="4"/><circle cx="1564.6" cy="720.1" r="4"/><circle cx="1564.6" cy="746.2" r="4"/><circle cx="1564.6" cy="772.3" r="4"/><circle cx="1564.6" cy="793.4" r="4"/><circle cx="1564.6" cy="809.8" r="4"/><circle cx="1564.6" cy="817.2" r="4"/><circle cx="1597.4" cy="425.5" r="4"/><circle cx="1597.4" cy="469.8" r="4"/><circle cx="1597.4" cy="532" r="4"/><circle cx="1597.4" cy="544.5" r="4"/><circle cx="1597.4" cy="606" r="4"/><circle cx="1597.4" cy="630" r="4"/><circle cx="1597.4" cy="644.8" r="4"/><circle cx="1597.4" cy="737.1" r="4"/><circle cx="1597.4" cy="753.9" r="4"/><circle cx="1597.4" cy="778.3" r="4"/><circle cx="1597.4" cy="784" r="4"/><circle cx="1597.4" cy="811.5" r="4"/><circle cx="1597.4" cy="820.3" r="4"/><circle cx="1630.2" cy="323.4" r="4"/><circle cx="1630.2" cy="457.8" r="4"/><circle cx="1630.2" cy="492.5" r="4"/><circle cx="1630.2" cy="496.8" r="4"/><circle cx="1630.2" cy="532.6" r="4"/><circle cx="1630.2" cy="609.5" r="4"/><circle cx="1630.2" cy="643.9" r="4"/><circle cx="1630.2" cy="688.2" r="4"/><circle cx="1630.2" cy="752.7" r="4"/><circle cx="1630.2" cy="800.5" r="4"/><circle cx="1630.2" cy="808.1" r="4"/><circle cx="1630.2" cy="821.2" r="4"/><circle cx="1630.2" cy="842.8" r="4"/><circle cx="1663.0" cy="366.9" r="4"/><circle cx="1663.0" cy="432.8" r="4"/><circle cx="1663.0" cy="510.4" r="4"/><circle cx="1663.0" cy="611.7" r="4"/><circle cx="1663.0" cy="615.8" r="4"/><circle cx="1663.0" cy="623.5" r="4"/><circle cx="1663.0" cy="681.7" r="4"/><circle cx="1663.0" cy="705" r="4"/><circle cx="1663.0" cy="709.3" r="4"/><circle cx="1663.0" cy="768.6" r="4"/><circle cx="1663.0" cy="800.5" r="4"/><circle cx="1663.0" cy="825.2" r="4"/><circle cx="1695.9" cy="314.5" r="4"/><circle cx="1695.9" cy="480.6" r="4"/><circle cx="1695.9" cy="554.4" r="4"/><circle cx="1695.9" cy="597.9" r="4"/><circle cx="1695.9" cy="600.7" r="4"/><circle cx="1695.9" cy="647.6" r="4"/><circle cx="1695.9" cy="652.4" r="4"/><circle cx="1695.9" cy="684" r="4"/><circle cx="1695.9" cy="774.9" r="4"/><circle cx="1695.9" cy="781.1" r="4"/><circle cx="1695.9" cy="826.6" r="4"/><circle cx="1695.9" cy="830" r="4"/><circle cx="1728.7" cy="475.2" r="4"/><circle cx="1728.7" cy="485.1" r="4"/><circle cx="1728.7" cy="505" r="4"/><circle cx="1728.7" cy="565.8" r="4"/><circle cx="1728.7" cy="627.7" r="4"/><circle cx="1728.7" cy="689.4" r="4"/><circle cx="1728.7" cy="734.5" r="4"/><circle cx="1728.7" cy="777.4" r="4"/><circle cx="1728.7" cy="786.3" r="4"/><circle cx="1728.7" cy="803.9" r="4"/><circle cx="1728.7" cy="807.6" r="4"/><circle cx="1728.7" cy="840.8" r="4"/></g>
<path d="M1466.2,510.9 L1471.7,514.9 L1477.2,518.9 L1482.6,522.8 L1488.1,526.7 L1493.6,530.6 L1499.0,534.5 L1504.5,538.3 L1510.0,542.1 L1515.4,545.9 L1520.9,549.6 L1526.4,553.2 L1531.8,556.8 L1537.3,560.3 L1542.8,563.8 L1548.2,567.2 L1553.7,570.5 L1559.2,573.7 L1564.6,576.8 L1570.1,579.8 L1575.6,582.8 L1581.0,585.5 L1586.5,588.2 L1592.0,590.7 L1597.4,593.1 L1602.9,595.4 L1608.4,597.6 L1613.8,599.6 L1619.3,601.5 L1624.8,603.3 L1630.2,605.0 L1635.7,606.5 L1641.2,608.0 L1646.6,609.4 L1652.1,610.7 L1657.6,611.9 L1663.0,613.1 L1668.5,614.1 L1674.0,615.2 L1679.5,616.2 L1684.9,617.1 L1690.4,618.0 L1695.9,618.9 L1701.3,619.7 L1706.8,620.5 L1712.3,621.2 L1717.7,622.0 L1723.2,622.7 L1728.7,623.4 L1728.7,734.4 L1723.2,730.4 L1717.7,726.4 L1712.3,722.5 L1706.8,718.6 L1701.3,714.7 L1695.9,710.8 L1690.4,707.0 L1684.9,703.2 L1679.5,699.4 L1674.0,695.7 L1668.5,692.1 L1663.0,688.5 L1657.6,685.0 L1652.1,681.5 L1646.6,678.1 L1641.2,674.8 L1635.7,671.6 L1630.2,668.5 L1624.8,665.5 L1619.3,662.5 L1613.8,659.8 L1608.4,657.1 L1602.9,654.6 L1597.4,652.1 L1592.0,649.9 L1586.5,647.7 L1581.0,645.7 L1575.6,643.8 L1570.1,642.0 L1564.6,640.3 L1559.2,638.8 L1553.7,637.3 L1548.2,635.9 L1542.8,634.6 L1537.3,633.4 L1531.8,632.2 L1526.4,631.2 L1520.9,630.1 L1515.4,629.1 L1510.0,628.2 L1504.5,627.3 L1499.0,626.4 L1493.6,625.6 L1488.1,624.8 L1482.6,624.1 L1477.2,623.3 L1471.7,622.6 L1466.2,621.9Z" fill="rgb(128,128,128)" fill-opacity="0.4"/>
<line x1="1466.2" y1="566.4" x2="1728.7" y2="678.9" stroke="#000" stroke-width="7.3"/>
<rect x="1454.3" y="66.3" width="286.7" height="818.9" fill="none" stroke="#1c1c1c" stroke-width="2"/>
<rect x="1454.3" y="6.1" width="286.7" height="58.9" fill="#cfcfcf" stroke="#1c1c1c" stroke-width="2"/>
<text transform="translate(1597.7,45.8) scale(1,1.035)" font-size="31.2" text-anchor="middle" fill="#0d0d0d">High WM</text>
<line x1="1466.2" x2="1466.2" y1="886.2" y2="895.5" stroke="#1c1c1c" stroke-width="3.7"/>
<text transform="translate(1466.2,926.3) scale(1,1.05)" font-size="30.5" text-anchor="middle" fill="#2e2e2e">-10</text>
<line x1="1531.8" x2="1531.8" y1="886.2" y2="895.5" stroke="#1c1c1c" stroke-width="3.7"/>
<text transform="translate(1531.8,926.3) scale(1,1.05)" font-size="30.5" text-anchor="middle" fill="#2e2e2e">-4</text>
<line x1="1597.4" x2="1597.4" y1="886.2" y2="895.5" stroke="#1c1c1c" stroke-width="3.7"/>
<text transform="translate(1597.4,926.3) scale(1,1.05)" font-size="30.5" text-anchor="middle" fill="#2e2e2e">2</text>
<line x1="1663.0" x2="1663.0" y1="886.2" y2="895.5" stroke="#1c1c1c" stroke-width="3.7"/>
<text transform="translate(1663.0,926.3) scale(1,1.05)" font-size="30.5" text-anchor="middle" fill="#2e2e2e">8</text>
<line x1="1728.7" x2="1728.7" y1="886.2" y2="895.5" stroke="#1c1c1c" stroke-width="3.7"/>
<text transform="translate(1728.7,926.3) scale(1,1.05)" font-size="30.5" text-anchor="middle" fill="#2e2e2e">14</text>
</g>
<line x1="137" x2="147.0" y1="105.5" y2="105.5" stroke="#1c1c1c" stroke-width="3.0"/>
<text transform="translate(128.8,117.3) scale(1,1.06)" font-size="30.5" text-anchor="end" fill="#2e2e2e">1500</text>
<line x1="137" x2="147.0" y1="478.7" y2="478.7" stroke="#1c1c1c" stroke-width="3.0"/>
<text transform="translate(128.8,490.5) scale(1,1.06)" font-size="30.5" text-anchor="end" fill="#2e2e2e">1000</text>
<line x1="137" x2="147.0" y1="851.9" y2="851.9" stroke="#1c1c1c" stroke-width="3.0"/>
<text transform="translate(128.8,863.7) scale(1,1.06)" font-size="30.5" text-anchor="end" fill="#2e2e2e">500</text>
<text transform="translate(944.8,972.6) scale(1,1.005)" font-size="39" text-anchor="middle" fill="#000">SNR (dB)</text>
<text transform="translate(32.2,475) rotate(-90) scale(1,1.06)" font-size="39.2" text-anchor="middle" fill="#000">CDT response time (ms)</text>
</svg>
</body></html>
